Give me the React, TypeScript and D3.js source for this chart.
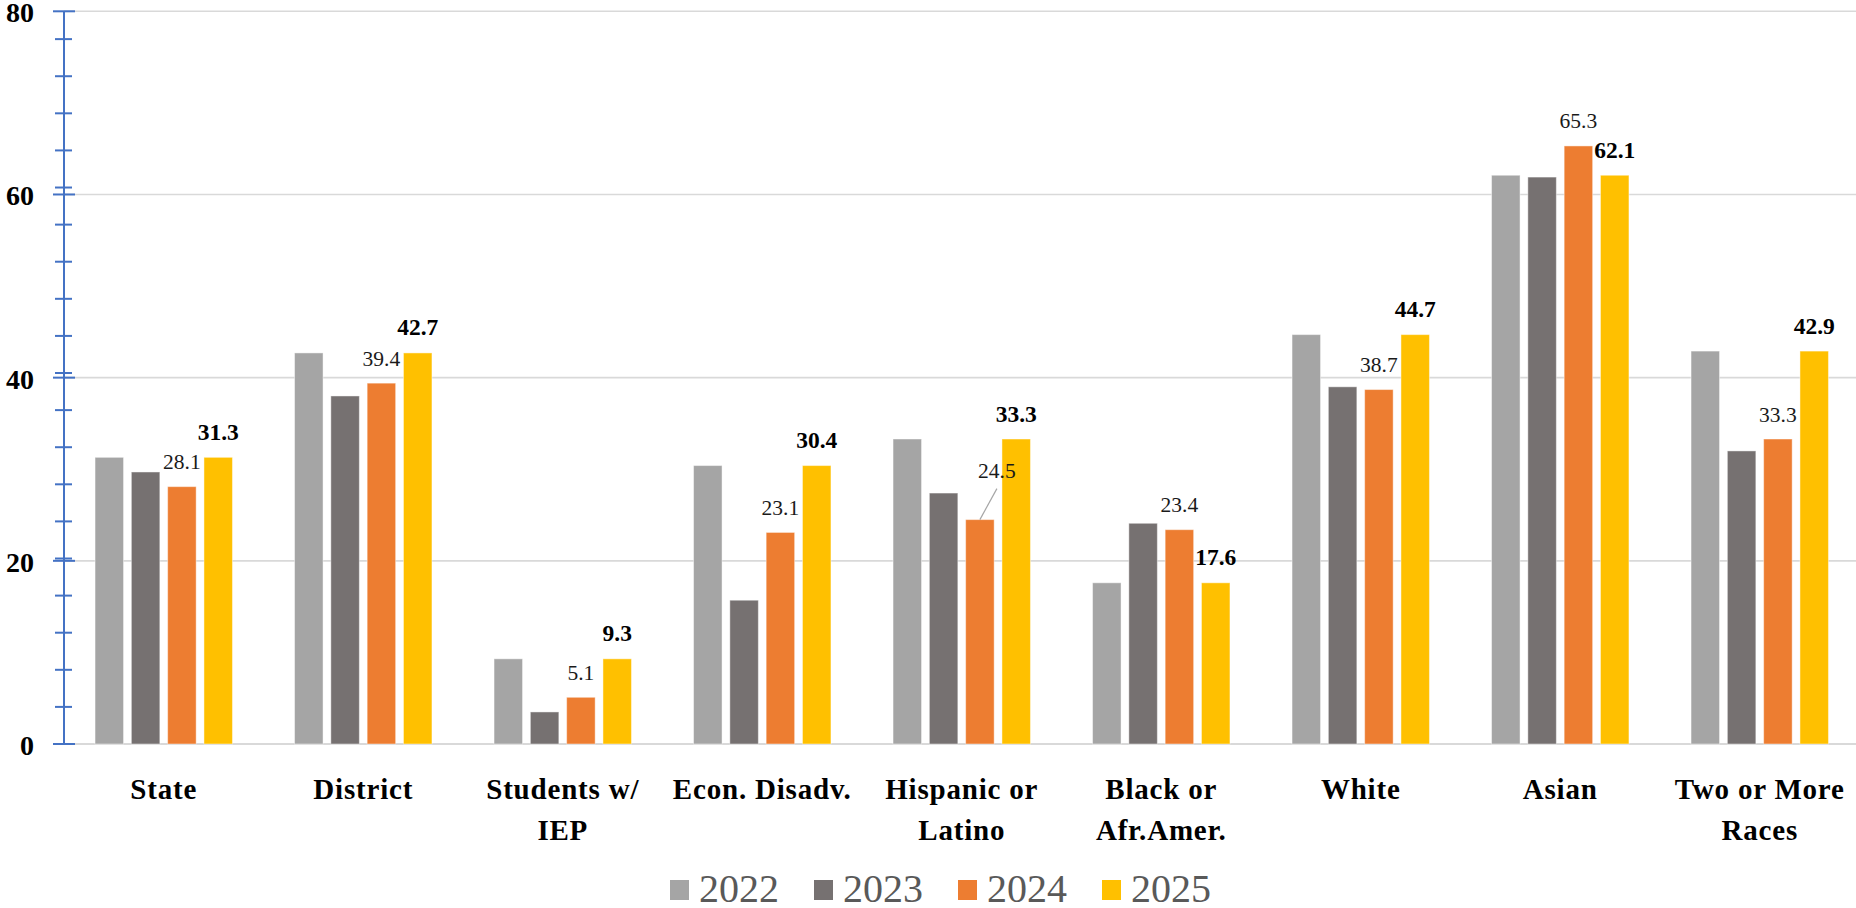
import React from "react";
import * as d3 from "d3";

const categoryLines: string[][] = [
  ["State"],
  ["District"],
  ["Students w/", "IEP"],
  ["Econ. Disadv."],
  ["Hispanic or", "Latino"],
  ["Black or", "Afr.Amer."],
  ["White"],
  ["Asian"],
  ["Two or More", "Races"],
];
const categories = categoryLines.map((l) => l.join(" "));
const years = ["2022", "2023", "2024", "2025"];
const values2022 = [31.3, 42.7, 9.3, 30.4, 33.3, 17.6, 44.7, 62.1, 42.9];
const values2023 = [29.7, 38.0, 3.5, 15.7, 27.4, 24.1, 39.0, 61.9, 32.0];
const values2024 = [28.1, 39.4, 5.1, 23.1, 24.5, 23.4, 38.7, 65.3, 33.3];
const values2025 = [31.3, 42.7, 9.3, 30.4, 33.3, 17.6, 44.7, 62.1, 42.9];
const seriesValues = [values2022, values2023, values2024, values2025];
const colors = ["#A5A5A5", "#767171", "#ED7D31", "#FFC000"];
const yTicks = [0, 20, 40, 60, 80];
// labelled series: 2024 (regular) and 2025 (bold)
const labelledSeries = [2, 3];

const W = 1856;
const H = 908;
const FONT = "'Palatino Linotype', 'Book Antiqua', Palatino, 'Liberation Serif', serif";

export default function App() {
  const x0 = d3.scaleBand<string>().domain(categories).range([64, 1859.5]).paddingInner(0).paddingOuter(0);
  const x1 = d3.scaleBand<string>().domain(years).range([0, x0.bandwidth()]).paddingInner(0.215).paddingOuter(0.855);
  const y = d3.scaleLinear().domain([0, 80]).range([744, 11.3]);
  // secondary (blue) axis with its own minor tick spacing
  const yMinor = d3.scaleLinear().domain([0, 79]).range([744, 11.3]);
  const minorTicks = d3.range(0, 77, 4);
  const axisX = 64;

  return (
    <svg width={W} height={H} style={{ position: "absolute", left: 0, top: 0, background: "#fff" }} fontFamily={FONT}>
      {/* gridlines */}
      {yTicks.map((t) => (
        <line key={"g" + t} x1={axisX} x2={W} y1={y(t)} y2={y(t)} stroke="#D9D9D9" strokeWidth={t === 0 ? 2.2 : 1.6} />
      ))}
      {/* bars */}
      {seriesValues.map((vals, si) =>
        vals.map((v, ci) => (
          <rect
            key={`b${si}-${ci}`}
            x={(x0(categories[ci]) as number) + (x1(years[si]) as number)}
            y={y(v)}
            width={x1.bandwidth()}
            height={y(0) - y(v)}
            fill={colors[si]}
            stroke="#ffffff"
            strokeOpacity={0.45}
            strokeWidth={1}
          />
        ))
      )}
      {/* blue axis */}
      <line x1={axisX} x2={axisX} y1={y(80)} y2={y(0)} stroke="#4472C4" strokeWidth={2} />
      {minorTicks.map((t) => (
        <line key={"m" + t} x1={axisX - 9} x2={axisX + 8} y1={yMinor(t)} y2={yMinor(t)} stroke="#4472C4" strokeWidth={2} />
      ))}
      {yTicks.map((t) => (
        <line key={"M" + t} x1={axisX - 11} x2={axisX + 11} y1={y(t)} y2={y(t)} stroke="#4472C4" strokeWidth={2} />
      ))}
      {/* y tick labels */}
      {yTicks.map((t) => (
        <text key={"yl" + t} x={34} y={y(t) + 11} textAnchor="end" fontSize={28} fontWeight="bold" fill="#000">
          {t}
        </text>
      ))}
      {/* data labels */}
      {labelledSeries.map((si) =>
        seriesValues[si].map((v, ci) => {
          const cx = (x0(categories[ci]) as number) + (x1(years[si]) as number) + x1.bandwidth() / 2;
          const top = y(v);
          const moved = si === 2 && ci === 4;
          const lx = moved ? cx + 17 : cx;
          const ly = moved ? top - 41.5 : top - 17.5;
          return (
            <g key={`l${si}-${ci}`}>
              {moved && <line x1={lx} y1={ly + 10.5} x2={cx} y2={top} stroke="#A6A6A6" strokeWidth={1.2} />}
              <text
                x={lx}
                y={ly}
                textAnchor="middle"
                fontSize={si === 3 ? 23.5 : 21.5}
                fontWeight={si === 3 ? "bold" : "normal"}
                fill={si === 3 ? "#000" : "#1a1a1a"}
              >
                {v.toFixed(1)}
              </text>
            </g>
          );
        })
      )}
      {/* category labels */}
      {categoryLines.map((lines, ci) => {
        const cx = (x0(categories[ci]) as number) + x0.bandwidth() / 2;
        return (
          <text key={"c" + ci} textAnchor="middle" fontSize={29} fontWeight="bold" letterSpacing={0.8} fill="#000">
            {lines.map((ln, li) => (
              <tspan key={li} x={cx} y={798.5 + li * 41.3}>
                {ln}
              </tspan>
            ))}
          </text>
        );
      })}
      {/* legend */}
      {years.map((yr, i) => {
        const lx = 670 + i * 144;
        return (
          <g key={"lg" + yr}>
            <rect x={lx} y={880} width={19} height={20} fill={colors[i]} />
            <text x={lx + 29} y={902} fontSize={40} fill="#595959" fontFamily="'Liberation Serif', serif">
              {yr}
            </text>
          </g>
        );
      })}
    </svg>
  );
}
